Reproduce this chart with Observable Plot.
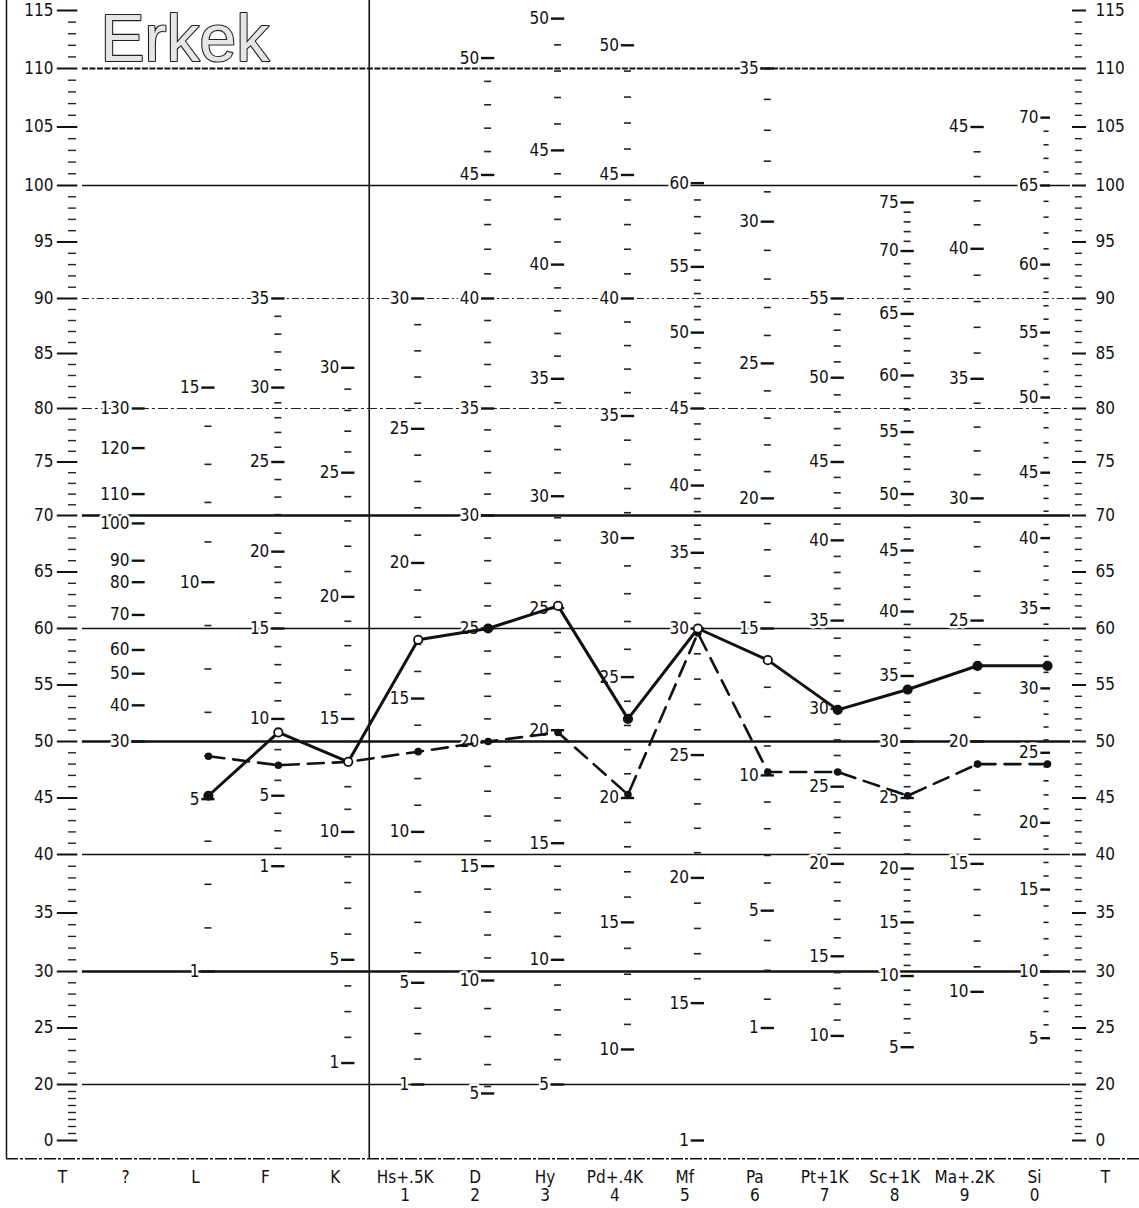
<!DOCTYPE html>
<html><head><meta charset="utf-8">
<script src="https://cdn.jsdelivr.net/npm/d3@7"></script>
<script src="https://cdn.jsdelivr.net/npm/@observablehq/plot@0.6"></script>
<style>body{margin:0;background:#fff}#chart svg{display:block}</style>
</head><body><div id="chart"></div>
<script>
// ---------- data ----------
const columns = ["T","?","L","F","K","Hs+.5K","D","Hy","Pd+.4K","Mf","Pa","Pt+1K","Sc+1K","Ma+.2K","Si","T"];
const columnNumbers = ["","","","","","1","2","3","4","5","6","7","8","9","0",""];
const tLabels = [0,20,25,30,35,40,45,50,55,60,65,70,75,80,85,90,95,100,105,110,115];
const gridLevels = [20,30,40,50,60,70,80,90,100,110];
const profileScales = ["L","F","K","Hs+.5K","D","Hy","Pd+.4K","Mf","Pa","Pt+1K","Sc+1K","Ma+.2K","Si"];
const solidProfileT  = [45.2,50.8,48.2,59.0,60.0,62.0,52.0,60.0,57.2,52.8,54.6,56.7,56.7];
const solidOpen      = [false,true,true,true,false,true,false,true,true,false,false,false,false];
const dashedProfileT = [48.7,47.9,48.2,49.1,50.0,50.8,45.3,59.6,47.3,47.3,45.2,48.0,48.0];
// raw score scale labels per column: [raw, T]
const rawQ  = [[130,80],[120,76.3],[110,72],[100,69.3],[90,66],[80,64.1],[70,61.2],[60,58.1],[50,56],[40,53.2],[30,50]];
const rawL  = [[15,81.9],[10,64.1],[5,44.9],[1,30]];
const rawF  = [[35,90],[30,81.9],[25,75],[20,66.8],[15,60],[10,52],[5,45.2],[1,39]];
const rawK  = [[30,83.7],[25,74],[20,62.8],[15,52],[10,42],[5,31],[1,21.9]];
const rawHs = [[30,90],[25,78.1],[20,65.8],[15,53.8],[10,42],[5,29],[1,20]];
const rawD  = [[50,110.9],[45,100.9],[40,90],[35,80],[30,70],[25,60],[20,50],[15,39],[10,29.2],[5,16.8]];
const rawHy = [[50,114.3],[45,103],[40,93],[35,82.7],[30,71.8],[25,61.8],[20,51],[15,41],[10,31],[5,20]];
const rawPd = [[50,112],[45,100.9],[40,90],[35,79.3],[30,68],[25,55.7],[20,45],[15,34.2],[10,23.1]];
const rawMf = [[60,100.2],[55,92.8],[50,86.9],[45,80],[40,72.8],[35,66.7],[30,60],[25,48.8],[20,38],[15,27.2],[1,0]];
const rawPa = [[35,110],[30,96.8],[25,84.1],[20,71.6],[15,60],[10,47],[5,35.2],[1,25]];
const rawPt = [[55,90],[50,82.8],[45,75],[40,67.8],[35,60.7],[30,52.9],[25,46],[20,39.2],[15,31.3],[10,24.3]];
const rawSc = [[75,98.5],[70,94.2],[65,88.6],[60,83],[55,77.8],[50,72],[45,66.9],[40,61.5],[35,55.8],[30,50],[25,45],[20,38.8],[15,34.2],[10,29.6],[5,23.3]];
const rawMa = [[45,105],[40,94.4],[35,82.7],[30,71.6],[25,60.7],[20,50],[15,39.2],[10,28.2]];
const rawSi = [[70,105.8],[65,100],[60,93],[55,86.9],[50,81],[45,74],[40,68],[35,61.8],[30,54.7],[25,49],[20,42.8],[15,37],[10,30],[5,24.1]];

// ---------- tables built from the data ----------
const rawByColumn = {"?":rawQ,"L":rawL,"F":rawF,"K":rawK,"Hs+.5K":rawHs,"D":rawD,"Hy":rawHy,"Pd+.4K":rawPd,"Mf":rawMf,"Pa":rawPa,"Pt+1K":rawPt,"Sc+1K":rawSc,"Ma+.2K":rawMa,"Si":rawSi};
const rawLabels = [], rawMinor = [];
for (const [name, pairs] of Object.entries(rawByColumn)) {
  const i = columns.indexOf(name);
  pairs.forEach(([raw, t]) => rawLabels.push({i, raw, t}));
  if (name === "?") continue;
  for (let k = 0; k < pairs.length - 1; k++) {
    const [r0, t0] = pairs[k], [r1, t1] = pairs[k + 1];
    const gap = r0 - r1;
    if (gap > 5) continue;
    for (let r = r1 + 1; r < r0; r++) rawMinor.push({i, t: t1 + (t0 - t1) * (r - r1) / gap});
  }
}
const solidData = profileScales.map((s, k) => ({i: columns.indexOf(s), t: solidProfileT[k], open: solidOpen[k]}));
const dashedData = profileScales.map((s, k) => ({i: columns.indexOf(s), t: dashedProfileT[k]}));
const axisMinor = d3.range(21, 115).filter(v => v % 5 !== 0).concat([2.5,5,7.5,10,12.5,15,17.5]);
const colLabels = columns.map((c, i) => ({i, c, n: columnNumbers[i]}));
const midLabels = colLabels.filter(d => d.i > 0 && d.i < 15);

const FONT = "'Liberation Sans Narrow','DejaVu Sans Condensed',sans-serif";
const halo = {stroke: "white", strokeWidth: 5, paintOrder: "stroke"};

const chart = Plot.plot({
  width: 1139, height: 1208, margin: 0,
  style: {fontFamily: FONT, background: "white"},
  x: {type: "linear", domain: [0, 1, 14, 15], range: [72, 138, 1047, 1079], axis: null},
  y: {type: "linear", domain: [0,20,30,40,50,60,70,80,90,100,110,115],
      range: [1140,1084,971,854,741,628,515,408,298,185,68,10], axis: null},
  marks: [
    // frame
    Plot.ruleX([-1.0], {y1: -6.5, y2: 116, stroke: "#111", strokeWidth: 1.5}),
    Plot.ruleY([-6.5], {x1: -1.0, x2: 16.9, stroke: "#111", strokeWidth: 1.4, strokeDasharray: "12,2,3,2"}),
    // grid lines
    Plot.ruleY(gridLevels.filter(v => [30,50,70].includes(v)), {x1: 0.15, x2: 14.72, stroke: "#111", strokeWidth: 2.6}),
    Plot.ruleY(gridLevels.filter(v => [20,40,60,100].includes(v)), {x1: 0.15, x2: 14.72, stroke: "#111", strokeWidth: 1.3}),
    Plot.ruleY(gridLevels.filter(v => v === 110), {x1: 0.15, x2: 14.72, stroke: "#111", strokeWidth: 2, strokeDasharray: "6,1.5"}),
    Plot.ruleY(gridLevels.filter(v => v === 90), {x1: 0.15, x2: 14.72, stroke: "#222", strokeWidth: 1.1, strokeDasharray: "7,3,2,3"}),
    Plot.ruleY(gridLevels.filter(v => v === 80), {x1: 0.15, x2: 14.72, stroke: "#222", strokeWidth: 1.2, strokeDasharray: "10,3,3,3"}),
    // divider between validity and clinical scales
    Plot.ruleX([4.3], {y1: -6.5, y2: 116, stroke: "#111", strokeWidth: 1.6}),
    // left T axis
    Plot.ruleY(tLabels, {x1: -0.23, x2: 0.08, stroke: "#111", strokeWidth: 2}),
    Plot.ruleY(axisMinor, {x1: -0.06, x2: 0.06, stroke: "#222", strokeWidth: 1.4}),
    Plot.text(tLabels, {x: 0, y: d => d, text: d => String(d), dx: -19, textAnchor: "end", fontSize: 17, fill: "#111"}),
    // right T axis
    Plot.ruleY(tLabels, {x1: 14.78, x2: 15.22, stroke: "#111", strokeWidth: 2}),
    Plot.ruleY(axisMinor, {x1: 14.87, x2: 15.09, stroke: "#222", strokeWidth: 1.4}),
    Plot.text(tLabels, {x: 15, y: d => d, text: d => String(d), dx: 16, textAnchor: "start", fontSize: 17, fill: "#111"}),
    // raw score scales
    Plot.text(rawLabels, {x: "i", y: "t", text: d => String(d.raw), dx: -9, textAnchor: "end", fontSize: 17, fill: "#111", ...halo}),
    Plot.ruleY(rawLabels, {y: "t", x1: d => d.i - 0.095, x2: d => d.i + 0.095, stroke: "#111", strokeWidth: 2.4}),
    Plot.ruleY(rawMinor, {y: "t", x1: d => d.i - 0.05, x2: d => d.i + 0.05, stroke: "#222", strokeWidth: 1.6}),
    // bottom column labels
    Plot.text(colLabels.filter(d => d.i === 0), {x: "i", y: -13.2, text: "c", dx: -10, fontSize: 17, fill: "#111"}),
    Plot.text(colLabels.filter(d => d.i === 15), {x: "i", y: -13.2, text: "c", dx: 26, fontSize: 17, fill: "#111"}),
    Plot.text(midLabels, {x: "i", y: -13.2, text: "c", dx: -13, fontSize: 17, fill: "#111"}),
    Plot.text(midLabels, {x: "i", y: -19.6, text: "n", dx: -13, fontSize: 17, fill: "#111"}),
    // title
    Plot.text(["Erkek"], {frameAnchor: "top-left", dx: 100, dy: 14, text: d => d, lineAnchor: "top", textAnchor: "start",
      fontSize: 66, fontFamily: "'Liberation Sans',Arial,sans-serif", fill: "#e6e6e6", stroke: "#222", strokeWidth: 2.2}),
    // profiles
    Plot.line(dashedData, {x: "i", y: "t", stroke: "#111", strokeWidth: 2.6, strokeDasharray: "16,9"}),
    Plot.dot(dashedData, {x: "i", y: "t", r: 3.8, fill: "#111"}),
    Plot.line(solidData, {x: "i", y: "t", stroke: "#111", strokeWidth: 3}),
    Plot.dot(solidData, {x: "i", y: "t", r: 4.2, fill: d => d.open ? "white" : "#111", stroke: "#111", strokeWidth: 1.8})
  ]
});
document.getElementById("chart").appendChild(chart);
</script>
</body></html>
